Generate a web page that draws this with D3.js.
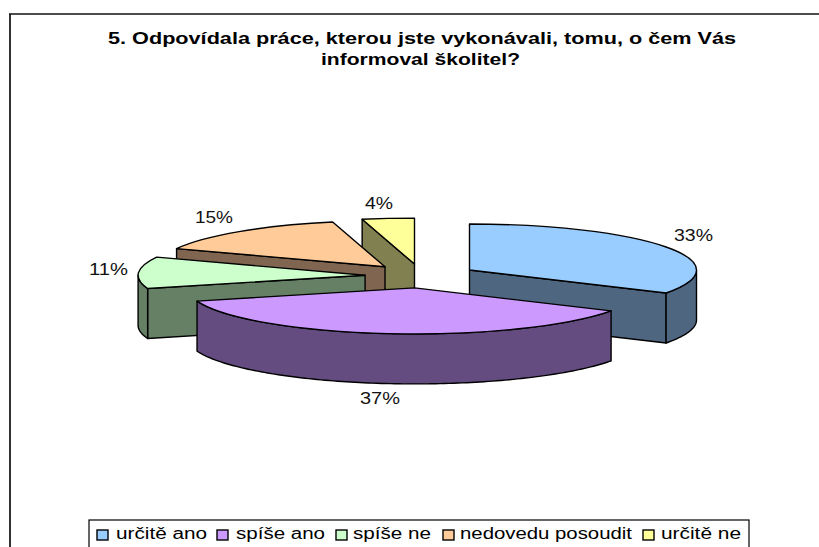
<!DOCTYPE html>
<html><head><meta charset="utf-8">
<script src="https://cdn.jsdelivr.net/npm/d3@7"></script>
<style>html,body{margin:0;background:#fff}svg{display:block}text{font-family:"Liberation Sans",Arial,sans-serif;fill:#000}</style>
</head><body><svg width="819" height="547"></svg>
<script>
const categories = ["určitě ano","spíše ano","spíše ne","nedovedu posoudit","určitě ne"];
const values = [9,10,3,4,1];
const topColors = ["#99CCFF","#CC99FF","#CCFFCC","#FFCC99","#FFFF99"];
const sideColors = ["#4F6680","#644C80","#668066","#806650","#808050"];
const titleLines = ["5. Odpovídala práce, kterou jste vykonávali, tomu, o čem Vás","informoval školitel?"];
const drawOrder = [4,3,0,2,1];
// stretched text layout: [left, baseline, width]
const titleBoxes = [[108,44,628],[321,65,199]];
const labelBoxes = [[674,241,39],[360,404,40],[89,275,39],[195,223,38],[365,209,28]];
const swatchX = [97,217,336,443,643];
const legendText = [[116,91],[236,89],[353,78],[460,172],[661,80]];

const cx=421, cy=276, rx=227, ry=46, depth=50, ex=56, ey=12;
const svg=d3.select("svg");
svg.append("path").attr("d","M10,547V14").attr("fill","none").attr("stroke","#333").attr("stroke-width",2);
svg.append("path").attr("d","M9,14H819").attr("fill","none").attr("stroke","#111").attr("stroke-width",1.6);

function stretched(g,str,x,y,w,size,weight){
  return g.append("text").attr("x",x).attr("y",y).attr("textLength",w).attr("lengthAdjust","spacingAndGlyphs")
    .attr("font-size",size).attr("font-weight",weight).text(str);
}
const title=svg.append("g");
titleLines.forEach((t,i)=>stretched(title,t,titleBoxes[i][0],titleBoxes[i][1],titleBoxes[i][2],16,"bold"));

const arcs=d3.pie().sort(null)(values);
const total=d3.sum(values);
const pct=d3.format(".0%");
const line=d3.line().x(d=>d[0]).y(d=>d[1]);
function pt(c,a,dy=0){return [c[0]+rx*Math.sin(a),c[1]-ry*Math.cos(a)+dy];}
function arcPts(c,a0,a1,dy=0){
  const n=Math.max(2,Math.ceil(Math.abs(a1-a0)/0.02));
  return d3.range(n+1).map(i=>pt(c,a0+(a1-a0)*i/n,dy));
}
function poly(g,pts,fill){
  g.append("path").attr("d",line(pts)+"Z").attr("fill",fill)
   .attr("stroke","#000").attr("stroke-width",1.4).attr("stroke-linejoin","round");
}
const plot=svg.append("g");
drawOrder.forEach(i=>{
  const d=arcs[i], mid=(d.startAngle+d.endAngle)/2;
  const c=[cx+ex*Math.sin(mid),cy-ey*Math.cos(mid)];
  const g=plot.append("g"), side=sideColors[i];
  const wall=a=>{const p=pt(c,a);poly(g,[c,p,[p[0],p[1]+depth],[c[0],c[1]+depth]],side);};
  // radial walls that face the viewer
  if(Math.sin(d.endAngle)>1e-9) wall(d.endAngle);
  if(Math.sin(d.startAngle)<-1e-9) wall(d.startAngle);
  // outer wall: the part of the rim on the front half (90°–270°)
  const a0=Math.max(d.startAngle,Math.PI/2), a1=Math.min(d.endAngle,3*Math.PI/2);
  if(a1>a0) poly(g,arcPts(c,a0,a1).concat(arcPts(c,a1,a0,depth)),side);
  // top face, drawn with d3.arc and flattened
  const arc=d3.arc().innerRadius(0).outerRadius(rx);
  g.append("path").attr("d",arc(d)).attr("transform",`translate(${c}) scale(1,${ry/rx})`)
    .attr("fill",topColors[i]).attr("stroke","#000").attr("stroke-width",1.4)
    .attr("stroke-linejoin","round").attr("vector-effect","non-scaling-stroke");
});
const labels=svg.append("g");
values.forEach((v,i)=>stretched(labels,pct(v/total),labelBoxes[i][0],labelBoxes[i][1],labelBoxes[i][2],16.5,"normal").style("fill","#111"));

// legend (its lower edge runs past the page, as in the reference)
const legend=svg.append("g");
legend.append("rect").attr("x",89).attr("y",520).attr("width",660).attr("height",40).attr("fill","#fff").attr("stroke","#000").attr("stroke-width",1.2);
categories.forEach((c,i)=>{
  legend.append("rect").attr("x",swatchX[i]).attr("y",530).attr("width",11).attr("height",10).attr("fill",topColors[i]).attr("stroke","#000").attr("stroke-width",1.4);
  stretched(legend,c,legendText[i][0],539,legendText[i][1],16,"normal");
});
</script></body></html>
